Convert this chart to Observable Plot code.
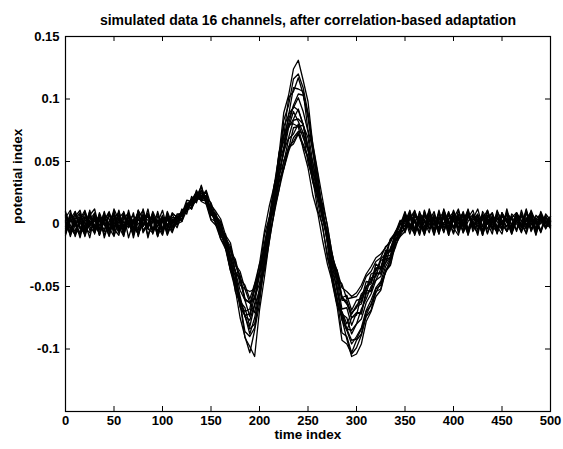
<!DOCTYPE html>
<html>
<head>
<meta charset="utf-8">
<script src="https://cdn.jsdelivr.net/npm/d3@7"></script>
<script src="https://cdn.jsdelivr.net/npm/@observablehq/plot@0.6"></script>
<style>
  html, body { margin: 0; padding: 0; background: #fff; }
  #chart svg { display: block; }
</style>
</head>
<body>
<div id="chart"></div>
<script>
// Chart texts
const titleText = "simulated data 16 channels, after correlation-based adaptation";
const xLabel = "time index";
const yLabel = "potential index";

// Tick values
const xTicks = [0, 50, 100, 150, 200, 250, 300, 350, 400, 450, 500];
const yTicks = [-0.15, -0.1, -0.05, 0, 0.05, 0.1, 0.15];
const yTickLabels = [-0.1, -0.05, 0, 0.05, 0.1, 0.15];

// Sample times (every 5 time-index units)
const t = [0,5,10,15,20,25,30,35,40,45,50,55,60,65,70,75,80,85,90,95,
  100,105,110,115,120,125,130,135,140,145,150,155,160,165,170,175,180,185,190,195,
  200,205,210,215,220,225,230,235,240,245,250,255,260,265,270,275,280,285,290,295,
  300,305,310,315,320,325,330,335,340,345,350,355,360,365,370,375,380,385,390,395,
  400,405,410,415,420,425,430,435,440,445,450,455,460,465,470,475,480,485,490,495,500];

// Channel values, in thousandths of the potential index
const ch1 = [8,-3,-9,4,11,-2,-7,6,1,-10,5,9,-4,2,-8,7,-1,12,-6,3,-5,10,0,
  6,2,16,12,27,19,26,8,7,
  -8,-10,-33,-37,-62,-67,-82,-65,-54,-23,
  -5,27,55,89,103,124,131,115,98,63,40,9,
  -10,-38,-51,-72,-75,-88,-80,-76,-63,-56,-45,-42,-31,-26,-12,-7,
  6,-4,10,1,-6,9,3,-5,12,0,-3,8,-7,5,11,-2,4,-8,7,2,-5,10,-1,6,-6,3,9,-4,5,-2,4];
const ch2 = [-6,9,2,-11,5,-1,7,-8,3,10,-4,-9,6,0,-7,11,4,-3,8,-10,2,6,-5,
  1,12,8,22,17,31,16,15,0,
  -7,-18,-37,-52,-75,-90,-103,-85,-64,-30,
  -8,29,49,83,95,116,120,109,89,59,35,11,
  -16,-47,-66,-93,-96,-104,-99,-89,-74,-69,-54,-52,-37,-32,-14,-9,
  -3,8,2,-7,11,-1,5,-6,9,3,-8,6,0,10,-4,7,-9,4,1,8,-5,12,-2,3,-7,9,1,-4,6,0,-3];
const ch3 = [3,-8,10,-2,-6,7,12,-4,1,-9,5,-3,8,-11,2,9,-5,0,6,-7,4,-2,9,
  5,9,13,18,22,30,17,14,3,
  -1,-20,-28,-54,-63,-86,-90,-83,-57,-32,
  4,20,57,70,101,106,117,104,85,57,35,5,
  -11,-45,-60,-87,-90,-103,-93,-88,-70,-65,-52,-49,-38,-29,-15,-5,
  9,-2,-8,5,3,10,-5,1,7,-9,4,12,-3,6,-1,-7,8,2,-4,11,0,-6,5,9,-3,2,7,-8,4,1,6];
const ch4 = [-9,4,-1,8,-5,11,-7,2,6,-3,-10,5,9,-2,3,-8,7,-4,10,1,-6,4,-2,
  2,10,12,20,23,24,26,7,9,
  -10,-12,-35,-41,-66,-73,-88,-75,-55,-28,
  -9,26,44,78,87,109,108,106,75,60,27,14,
  -15,-40,-59,-77,-85,-96,-90,-83,-69,-61,-51,-46,-34,-27,-14,-4,
  1,11,-5,4,-9,7,2,-3,9,-6,5,0,10,-4,3,8,-7,1,6,-2,-8,9,4,-5,11,-1,3,-6,8,2,-2];
const ch5 = [5,11,-4,-8,2,7,-6,9,-1,-5,12,3,-9,6,0,-3,8,-11,4,-2,7,-7,3,
  -3,8,12,16,18,27,21,17,6,
  2,-14,-25,-49,-63,-91,-98,-106,-69,-43,
  -14,8,36,60,80,95,104,103,88,64,42,20,
  -2,-24,-50,-76,-92,-106,-104,-96,-78,-70,-58,-53,-38,-33,-17,-10,
  -6,5,9,-3,1,7,-8,4,10,-2,6,-5,3,11,-1,-7,8,0,5,-4,9,2,-6,7,-3,4,10,-5,2,6,-1];
const ch6 = [-2,6,-10,3,9,-5,0,-8,7,4,-6,10,-3,1,-9,5,11,-4,-7,6,2,-5,8,
  6,7,14,17,25,19,22,10,4,
  -4,-13,-26,-38,-53,-61,-74,-58,-48,-19,
  3,19,48,61,88,93,101,90,74,49,30,9,
  -8,-35,-45,-68,-67,-81,-71,-72,-53,-54,-39,-40,-26,-25,-9,-6,
  4,-8,6,2,-4,12,-1,5,-7,8,3,-3,9,-6,1,7,-2,10,-5,4,0,8,-7,3,6,-4,11,1,-6,5,2];
const ch7 = [10,-5,3,-9,6,1,-4,8,-11,2,7,-6,4,9,-2,-8,3,6,-5,10,-3,0,-7,
  4,9,14,19,19,27,17,9,1,
  -9,-17,-33,-46,-60,-74,-77,-64,-40,-18,
  4,26,50,70,84,94,91,80,60,38,18,-3,
  -24,-44,-62,-74,-84,-85,-80,-68,-60,-50,-45,-36,-31,-19,-10,-1,
  10,-3,2,-9,6,4,-5,9,-1,3,-7,11,0,-4,7,2,-8,5,9,-3,1,-6,8,4,-2,10,-5,3,0,7,-4];
const ch8 = [-7,2,8,-4,-1,10,-8,5,3,-6,9,-2,-10,7,1,-5,12,-3,4,-9,6,-1,5,
  5,4,15,15,24,21,23,9,7,
  -1,-13,-20,-38,-44,-60,-63,-59,-38,-23,
  1,17,42,57,77,84,92,79,69,42,28,7,
  -8,-33,-41,-61,-61,-72,-65,-62,-50,-46,-35,-36,-23,-22,-8,-5,
  -1,7,-6,9,3,-4,5,-8,11,1,-2,6,8,-5,2,-9,10,4,-3,7,-1,5,-7,9,2,-4,6,0,-6,8,3];
const ch9 = [1,-9,6,11,-3,-7,4,-1,9,-5,2,7,-8,3,-4,10,-6,1,8,-2,-9,5,2,
  7,9,16,19,26,20,18,4,2,
  -12,-18,-36,-45,-67,-73,-72,-52,-38,-9,
  5,31,45,71,77,90,82,73,49,36,11,-1,
  -27,-42,-65,-71,-85,-75,-73,-57,-55,-43,-42,-29,-28,-12,-9,2,
  5,-5,8,0,-8,10,2,-3,6,-6,9,4,-1,12,-4,3,7,-7,1,5,-3,9,-8,2,8,-2,4,-5,10,1,-1];
const ch10 = [6,-3,-8,5,1,-11,7,3,-5,9,-2,4,-7,11,-4,0,6,-9,2,8,-5,3,-1,
  2,7,12,18,20,25,20,11,5,
  -7,-8,-27,-29,-49,-52,-63,-53,-41,-19,
  -7,19,37,58,69,83,84,80,61,44,24,9,
  -7,-32,-37,-59,-57,-69,-61,-60,-46,-47,-32,-35,-21,-21,-7,-6,
  -4,9,1,-6,7,3,-9,6,0,10,-3,5,-7,2,8,-5,4,11,-2,-6,7,1,-4,9,3,-8,5,0,6,-3,2];
const ch11 = [-4,8,0,-7,10,-2,5,-9,4,-1,8,-6,2,-3,9,-10,6,3,-5,1,11,-4,4,
  0,2,11,13,20,20,27,15,10,
  4,-9,-15,-33,-41,-60,-63,-71,-51,-37,
  -15,11,27,51,60,77,78,79,62,49,27,16,
  -1,-25,-39,-58,-63,-75,-71,-71,-56,-53,-40,-39,-28,-27,-13,-10,
  8,-1,4,-8,10,-4,6,1,-6,9,2,-3,7,-9,4,12,-2,0,5,-7,8,3,-5,6,-1,10,-6,2,7,-4,3];
const ch12 = [9,-1,-6,3,-9,6,2,-4,10,-7,1,5,-3,8,-11,4,-2,7,-6,3,-8,9,-3,
  6,6,17,14,22,22,20,8,7,
  -5,-10,-22,-28,-44,-49,-60,-48,-38,-16,
  3,13,39,49,68,72,80,69,59,36,25,5,
  -14,-24,-43,-48,-60,-59,-58,-52,-42,-38,-30,-27,-18,-15,-6,0,
  -2,6,-9,3,8,0,-5,11,-3,4,7,-7,2,9,-1,-4,6,1,-8,10,3,-2,5,-6,8,0,4,-9,7,2,-1];
const ch13 = [-5,4,10,-3,-8,1,7,-5,3,9,-9,2,-2,6,-4,11,-7,0,5,-10,3,-1,8,
  -1,10,10,20,22,22,20,12,-1,
  -5,-14,-28,-42,-58,-74,-84,-80,-58,-36,
  -10,8,27,44,58,69,74,73,60,42,26,10,
  -9,-33,-54,-72,-84,-93,-92,-84,-73,-64,-55,-47,-39,-28,-19,-7,
  7,0,-7,10,-2,5,3,-8,6,-4,11,1,-5,8,-1,4,-9,7,2,-3,9,-6,0,6,-2,12,-4,3,-7,5,1];
const ch14 = [2,-7,4,9,-6,-1,8,-9,5,0,-4,11,-5,3,7,-8,1,-3,9,-6,4,-9,2,
  5,3,16,12,21,19,19,7,6,
  -2,-11,-18,-32,-38,-52,-54,-52,-32,-22,
  0,12,34,45,62,66,73,64,54,34,24,4,
  -6,-27,-37,-51,-54,-58,-55,-49,-40,-34,-27,-24,-19,-13,-8,1,
  -5,4,11,-3,2,-7,8,0,5,-9,6,3,-2,10,-6,1,7,-4,4,-8,9,2,-3,6,-1,-7,8,4,-5,3,0];
const ch15 = [-8,5,-2,6,-10,3,9,-3,-6,7,1,-7,10,-1,4,-9,5,8,-4,-2,6,-8,1,
  4,8,13,17,22,23,22,12,7,
  1,-15,-20,-38,-45,-61,-63,-60,-39,-25,
  1,11,33,44,61,64,72,62,53,33,21,4,
  -10,-30,-44,-59,-64,-72,-66,-64,-50,-48,-36,-35,-25,-21,-10,-6,
  3,9,-4,6,-8,2,10,-5,1,7,-3,-9,5,8,-2,4,-6,11,0,-4,6,2,-8,9,-1,5,-5,7,3,-3,6];
const ch16 = [7,-10,3,1,-6,8,-3,5,-9,2,10,-5,0,6,-7,4,-2,9,-8,3,-4,7,-6,
  8,8,19,18,25,18,16,3,-1,
  -12,-20,-37,-48,-64,-70,-68,-48,-32,-6,
  14,30,55,66,80,80,78,60,45,23,9,-13,
  -32,-46,-64,-70,-80,-71,-67,-56,-52,-40,-38,-28,-24,-12,-7,3,
  -7,5,2,8,-5,3,-1,9,-6,4,10,-3,1,-8,7,5,-4,2,9,-7,3,-2,6,0,-6,11,-1,4,8,-3,2];

const channels = [ch1,ch2,ch3,ch4,ch5,ch6,ch7,ch8,ch9,ch10,ch11,ch12,ch13,ch14,ch15,ch16];

// Long table built from the arrays (thousandths -> potential index units)
const table = channels.flatMap((vals, c) =>
  vals.map((v, i) => ({t: t[i], v: v / 1000, ch: c + 1}))
);

const W = 563, H = 449;
const mL = 65, mR = 13, mT = 36, mB = 38;
const plotH = H - mT - mB;
const plotW = W - mL - mR;
const tickLen = 5;
const font = "'Liberation Sans', Arial, Helvetica, sans-serif";

const chart = Plot.plot({
  width: W,
  height: H,
  marginLeft: mL,
  marginRight: mR,
  marginTop: mT,
  marginBottom: mB,
  style: {fontFamily: font, fontSize: "13px", fontWeight: "bold", color: "black", background: "white", overflow: "visible"},
  x: {domain: [0, 500], nice: false},
  y: {domain: [-0.15, 0.15], nice: false},
  marks: [
    Plot.line(table, {x: "t", y: "v", z: "ch", stroke: "black", strokeWidth: 1.3, strokeLinejoin: "round"}),
    Plot.frame({stroke: "black", strokeWidth: 1.2}),
    // inward tick marks on all four sides
    Plot.tickX(xTicks, {x: d => d, insetTop: plotH - tickLen, stroke: "black"}),
    Plot.tickX(xTicks, {x: d => d, insetBottom: plotH - tickLen, stroke: "black"}),
    Plot.tickY(yTicks, {y: d => d, insetRight: plotW - tickLen, stroke: "black"}),
    Plot.tickY(yTicks, {y: d => d, insetLeft: plotW - tickLen, stroke: "black"}),
    Plot.axisX(xTicks, {anchor: "bottom", tickSize: 0, tickPadding: 4, label: null, tickFormat: d => String(d), fontSize: 13}),
    Plot.axisY(yTickLabels, {anchor: "left", tickSize: 0, tickPadding: 6, label: null, tickFormat: d => String(d), fontSize: 13}),
    Plot.text([titleText], {frameAnchor: "top", dy: -21, fontSize: 14, fontWeight: "bold", fill: "black"}),
    Plot.text([xLabel], {frameAnchor: "bottom", dy: 27, fontSize: 13.5, fontWeight: "bold", fill: "black"}),
    Plot.text([yLabel], {frameAnchor: "left", dx: -48, rotate: -90, fontSize: 13.5, fontWeight: "bold", fill: "black"})
  ]
});

document.getElementById("chart").appendChild(chart);
</script>
</body>
</html>
